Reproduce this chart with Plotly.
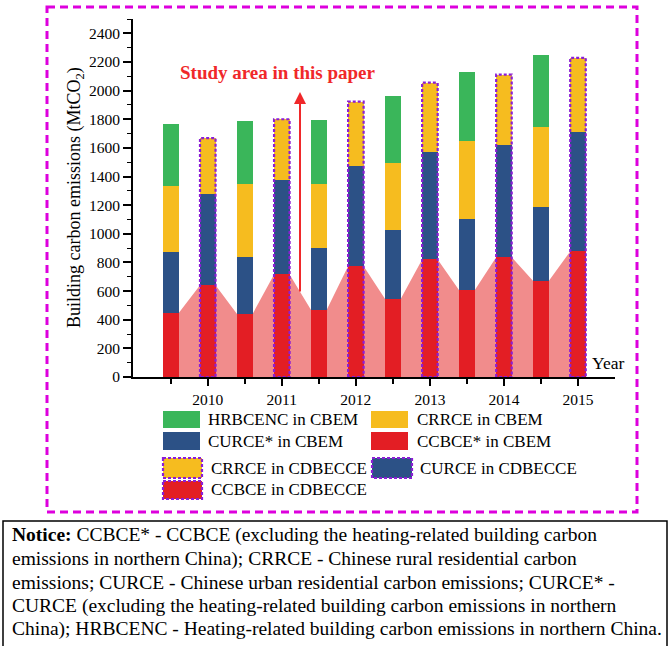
import plotly.graph_objects as go

# ---------------- data ----------------
years = [2010, 2011, 2012, 2013, 2014, 2015]
# CBEM stacks (segment values, MtCO2)
cbem_ccbce_star = [445, 440, 468, 544, 605, 670]
cbem_curce_star = [425, 400, 434, 482, 500, 518]
cbem_crrce = [465, 510, 443, 465, 542, 556]
cbem_hrbcenc = [430, 436, 450, 474, 483, 503]
# CDBECCE stacks (segment values, MtCO2)
cdb_ccbce = [640, 716, 774, 821, 837, 877]
cdb_curce = [635, 663, 698, 751, 784, 835]
cdb_crrce = [393, 421, 451, 483, 491, 516]

y_ticks = [0, 200, 400, 600, 800, 1000, 1200, 1400, 1600, 1800, 2000, 2200, 2400]

# ---------------- style ----------------
GREEN = "#3AB65A"
YELLOW = "#F6BC1F"
BLUE = "#2C5186"
RED = "#E31E24"
PINK = "#F18C8C"
PURPLE = "#8B1ED6"
MAGENTA = "#DD00DD"
FONT = "Liberation Serif, Times New Roman, serif"
BW = 0.21

W, H = 670, 646
L, R, T, B = 133, 615, 19, 377


def px(x):
    return (x - L) / (R - L)


def py(y):
    return (B - y) / (B - T)


x_cbem = [y - 0.5 for y in years]
x_cdb = list(years)

fig = go.Figure()


def add_bar(xs, vals, color):
    fig.add_trace(go.Bar(x=xs, y=vals, width=BW, marker=dict(color=color, line=dict(width=0)),
                         showlegend=False, hoverinfo="skip"))


add_bar(x_cbem, cbem_ccbce_star, RED)
add_bar(x_cbem, cbem_curce_star, BLUE)
add_bar(x_cbem, cbem_crrce, YELLOW)
add_bar(x_cbem, cbem_hrbcenc, GREEN)
add_bar(x_cdb, cdb_ccbce, RED)
add_bar(x_cdb, cdb_curce, BLUE)
add_bar(x_cdb, cdb_crrce, YELLOW)

# dashed outlines around CDBECCE stacks
ox, oy = [], []
for xc, a, b, c in zip(x_cdb, cdb_ccbce, cdb_curce, cdb_crrce):
    tot = a + b + c
    ox += [xc - BW / 2, xc - BW / 2, xc + BW / 2, xc + BW / 2, xc - BW / 2, None]
    oy += [0, tot, tot, 0, 0, None]
fig.add_trace(go.Scatter(x=ox, y=oy, mode="lines", line=dict(color=PURPLE, width=2.2, dash="3px,2px"),
                         showlegend=False, hoverinfo="skip"))

# pink area connecting red segment tops (below bars)
pts = []
for i in range(len(years)):
    pts.append((x_cbem[i], cbem_ccbce_star[i]))
    pts.append((x_cdb[i], cdb_ccbce[i]))
path = "M %f,0" % (pts[0][0] - BW / 2)
for xc, v in pts:
    path += " L %f,%f L %f,%f" % (xc - BW / 2, v, xc + BW / 2, v)
path += " L %f,0 Z" % (pts[-1][0] + BW / 2)
shapes = [dict(type="path", path=path, xref="x", yref="y", fillcolor=PINK, line=dict(width=0), layer="below")]

# outer magenta frame
shapes.append(dict(type="rect", xref="paper", yref="paper", x0=px(47), x1=px(637), y0=py(7), y1=py(512),
                   line=dict(color=MAGENTA, width=3, dash="8px,5px")))
# notice box
shapes.append(dict(type="rect", xref="paper", yref="paper", x0=px(3), x1=px(667), y0=py(521), y1=py(652),
                   line=dict(color="black", width=1.5)))

annotations = []

# legend (drawn)
legend_items = [
    # (x0, x1, y0, y1, color, dashed, text, text_x)
    (163, 200, 411, 428, GREEN, False, "HRBCENC in CBEM", 208),
    (371, 408, 411, 428, YELLOW, False, "CRRCE in CBEM", 417),
    (163, 200, 432, 450, BLUE, False, "CURCE* in CBEM", 208),
    (371, 408, 432, 450, RED, False, "CCBCE* in CBEM", 417),
    (163, 202, 458, 478, YELLOW, True, "CRRCE in CDBECCE", 211),
    (372, 412, 458, 478, BLUE, True, "CURCE in CDBECCE", 420),
    (163, 202, 481, 499, RED, True, "CCBCE in CDBECCE", 211),
]
for x0, x1, y0, y1, col, dashed, txt, tx in legend_items:
    if dashed:
        ln = dict(color=PURPLE, width=2.2, dash="3px,2px")
    else:
        ln = dict(width=0)
    shapes.append(dict(type="rect", xref="paper", yref="paper", x0=px(x0), x1=px(x1), y0=py(y0), y1=py(y1),
                       fillcolor=col, line=ln))
    annotations.append(dict(text=txt, xref="paper", yref="paper", x=px(tx), y=py((y0 + y1) / 2),
                            xanchor="left", yanchor="middle", align="left", showarrow=False,
                            borderpad=0, borderwidth=0,
                            font=dict(family=FONT, size=17, color="black")))

# notice text
notice_lines = [
    "<b>Notice:</b> CCBCE* - CCBCE (excluding the heating-related building carbon",
    "emissions in northern China); CRRCE - Chinese rural residential carbon",
    "emissions; CURCE - Chinese urban residential carbon emissions; CURCE* -",
    "CURCE (excluding the heating-related building carbon emissions in northern",
    "China); HRBCENC - Heating-related building carbon emissions in northern China.",
]
for i, ln in enumerate(notice_lines):
    annotations.append(dict(text=ln, xref="paper", yref="paper", x=px(12), y=py(535 + i * 23.5),
                            xanchor="left", yanchor="middle", align="left", showarrow=False,
                            borderpad=0, borderwidth=0,
                            font=dict(family=FONT, size=19.5, color="black")))

# y-axis title
annotations.append(dict(text="Building carbon emissions (MtCO<sub>2</sub>)", xref="paper", yref="paper",
                        x=px(75), y=0.5, textangle=-90, xanchor="center", yanchor="middle", showarrow=False,
                        font=dict(family=FONT, size=18, color="black")))
# Year label
annotations.append(dict(text="Year", xref="paper", yref="paper", x=px(591), y=py(363), xanchor="left",
                        yanchor="middle", showarrow=False, borderpad=0,
                        font=dict(family=FONT, size=17.5, color="black")))
# study area text
annotations.append(dict(text="<b>Study area in this paper</b>", xref="paper", yref="paper", x=px(278), y=py(72),
                        xanchor="center", yanchor="middle", showarrow=False,
                        font=dict(family=FONT, size=19, color="#F0282A")))
# red arrow
annotations.append(dict(text="", xref="paper", yref="paper", x=px(300), y=py(92), axref="pixel", ayref="pixel",
                        ax=0, ay=293 - 92, showarrow=True, arrowhead=2, arrowsize=1.2, arrowwidth=2,
                        arrowcolor="#F0282A"))

fig.update_layout(
    width=W, height=H,
    margin=dict(l=L, r=W - R, t=T, b=H - B, pad=0),
    paper_bgcolor="white", plot_bgcolor="white",
    barmode="stack", bargap=0,
    showlegend=False,
    shapes=shapes, annotations=annotations,
    font=dict(family=FONT, size=15, color="black"),
    xaxis=dict(range=[2008.99, 2015.5], tickvals=years, ticktext=[str(y) for y in years],
               showgrid=False, zeroline=False, showline=True, linecolor="black", linewidth=2,
               ticks="outside", ticklen=7, tickwidth=1.5, tickcolor="black",
               minor=dict(tickvals=x_cbem, ticks="outside", ticklen=5, tickwidth=1.5, tickcolor="black"),
               tickfont=dict(family=FONT, size=15.5)),
    yaxis=dict(range=[0, 2500], tickvals=y_ticks, showgrid=False, zeroline=False, showline=True,
               linecolor="black", linewidth=2, ticks="outside", ticklen=8, tickwidth=1.5, tickcolor="black",
               minor=dict(dtick=100, tick0=0, ticks="outside", ticklen=4, tickwidth=1.2, tickcolor="black"),
               tickfont=dict(family=FONT, size=15.5)),
)

fig.write_html("out.html", config={"displayModeBar": False},
               post_script="document.body.style.margin='0';document.body.style.overflow='hidden';")
